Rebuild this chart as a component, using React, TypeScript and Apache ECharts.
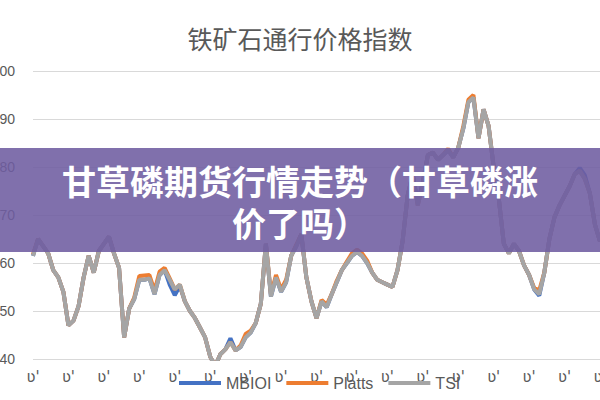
import React, { useEffect, useRef } from "react";
import * as echarts from "echarts";

const chartTitle = "铁矿石通行价格指数";
const bannerText = "甘草磷期货行情走势（甘草磷涨\n价了吗）";
const seriesNames = ["MBIOI", "Platts", "TSI"];
const seriesColors = ["#4472C4", "#ED7D31", "#A5A5A5"];
const xTickLabel = "ʋ'";

const tsi = [
  61.5, 65, 63.5, 62, 58.5, 57, 54, 47, 48, 51,
  57, 61.5, 58, 62.5, 64, 65.5, 62, 59, 44.5, 50.5,
  52.5, 56.5, 56.5, 56.8, 53.5, 57.5, 58.5, 56.5, 54.5, 55.5,
  52, 50, 48.5, 46.5, 44.5, 40.5, 38.5, 41, 42, 43.5,
  41.8, 42.5, 44.5, 45.5, 47.5, 51.5, 64, 53, 57, 54,
  56, 61.5, 63.5, 66, 57, 52, 48.5, 52, 50.8, 53.5,
  56, 58.5, 60, 61.5, 62.3, 61.5, 60, 58, 56.5, 56,
  55.5, 55, 58.5, 64.5, 74, 78.5, 72, 76.5, 82.5, 83,
  81.5, 82.5, 83.5, 82, 84, 88, 93.5, 94.5, 86, 92,
  88.5, 80, 73.5, 64, 62, 64, 62.5, 59.5, 57.5, 54.5,
  53.5, 58, 65, 69.5, 72, 74, 76, 78.5, 79.2, 77.5,
  74.5, 68, 64.5,
];

const mbioi = [
  61.5, 65, 63.5, 62, 58.5, 57, 54, 47, 48, 51,
  57, 61.5, 58, 62.5, 64, 65.5, 62, 59, 44.5, 50.5,
  52.5, 56.5, 56.5, 56.8, 53.5, 57.5, 58.5, 55.5, 53.3, 55.2,
  52, 50, 48.5, 46.5, 44.5, 40.5, 38.5, 41, 42, 44.3,
  41.8, 42.5, 44.5, 45.5, 47.5, 51.5, 64, 53, 57, 54,
  56, 61.5, 63.5, 66, 57, 52, 48.5, 52, 50.8, 53.5,
  56, 58.5, 60, 61.5, 62.3, 61.5, 60, 58, 56.5, 56,
  55.5, 55, 58.5, 64.5, 74, 78.5, 72.5, 77, 82.5, 83,
  81.5, 82.5, 83.5, 82, 84, 88, 93.5, 94.5, 86, 92,
  88.5, 80, 73.5, 64, 62, 64, 62.5, 59.5, 57.5, 54.5,
  53.2, 58, 65, 69.5, 72, 74, 76, 78.5, 79.8, 78.3,
  74.5, 68, 64.5,
];

const platts = [
  61.8, 65, 63.5, 62, 58.5, 57, 54, 47, 48, 51,
  57, 61.5, 58, 62.5, 64, 65.5, 62, 59, 44.5, 50.5,
  52.8, 57.3, 57.4, 57.5, 54.2, 58.2, 59, 56.8, 54.5, 55.5,
  52, 50, 48.5, 46.5, 44.5, 40.5, 38.5, 41, 42, 43.5,
  41.8, 42.8, 45.2, 45.9, 47.5, 51.5, 64, 53.5, 57.5, 54.5,
  56.5, 61.5, 63.8, 66, 57, 52, 48.5, 52.3, 51.3, 53.5,
  56.3, 58.5, 60.3, 62, 62.8, 62, 60.5, 58, 56.5, 56,
  55.5, 55, 58.5, 64.5, 74, 78.5, 72, 76.5, 82.5, 83,
  81.5, 82.5, 83.8, 82, 84, 88.5, 94, 95, 86, 92,
  88.5, 80, 73.5, 64, 62, 64, 62.5, 59.5, 57.5, 54.8,
  54.3, 58, 65, 69.5, 72, 74, 76, 78.5, 79.2, 77.5,
  74.5, 68, 64.5,
];

const categories = tsi.map((_, i) => `W${i + 1}`);

export default function App() {
  const ref = useRef<HTMLDivElement>(null);

  useEffect(() => {
    if (!ref.current) return;
    const chart = echarts.init(ref.current, null, { renderer: "svg" });
    const data = [mbioi, platts, tsi];
    chart.setOption({
      animation: false,
      backgroundColor: "#ffffff",
      title: {
        text: chartTitle,
        left: "center",
        top: 20,
        textStyle: {
          fontFamily: "Noto Sans CJK SC",
          fontSize: 25,
          fontWeight: "normal",
          color: "#595959",
        },
      },
      legend: {
        data: seriesNames,
        left: 174,
        top: 370,
        icon: "rect",
        itemWidth: 42,
        itemHeight: 4,
        itemGap: 15,
        textStyle: {
          fontFamily: "Liberation Sans",
          fontSize: 16,
          color: "#595959",
        },
      },
      grid: {
        left: 33,
        right: 0,
        top: 71,
        bottom: 41,
        containLabel: false,
        outerBoundsMode: "none",
      },
      xAxis: {
        type: "category",
        data: categories,
        boundaryGap: false,
        axisLine: { show: false },
        axisTick: { show: false },
        axisLabel: {
          interval: 6,
          margin: 10,
          fontFamily: "DejaVu Sans",
          fontSize: 15,
          color: "#595959",
          formatter: () => xTickLabel,
        },
        splitLine: { show: false },
      },
      yAxis: {
        type: "value",
        min: 40,
        max: 100,
        interval: 10,
        axisLine: { show: false },
        axisTick: { show: false },
        axisLabel: {
          margin: 18,
          fontFamily: "Liberation Sans",
          fontSize: 14,
          color: "#595959",
        },
        splitLine: { lineStyle: { color: "#d9d9d9", width: 1 } },
      },
      series: seriesNames.map((name, k) => ({
        name,
        type: "line",
        data: data[k],
        showSymbol: false,
        symbol: "none",
        color: seriesColors[k],
        lineStyle: { width: 4, color: seriesColors[k] },
        z: 2 + k,
      })),
      graphic: [
        {
          type: "rect",
          left: 0,
          top: 148,
          shape: { width: 600, height: 104 },
          style: { fill: "rgba(110, 92, 160, 0.88)" },
          z: 100,
        },
        {
          type: "text",
          x: 300,
          y: 201,
          z: 101,
          style: {
            text: bannerText,
            align: "center",
            verticalAlign: "middle",
            fill: "#ffffff",
            fontFamily: "Noto Sans CJK SC",
            fontWeight: "bold",
            fontSize: 34,
            lineHeight: 42,
          },
        },
      ],
    });
    return () => chart.dispose();
  }, []);

  return (
    <div
      ref={ref}
      style={{ position: "fixed", left: 0, top: 0, width: 600, height: 400 }}
    />
  );
}
